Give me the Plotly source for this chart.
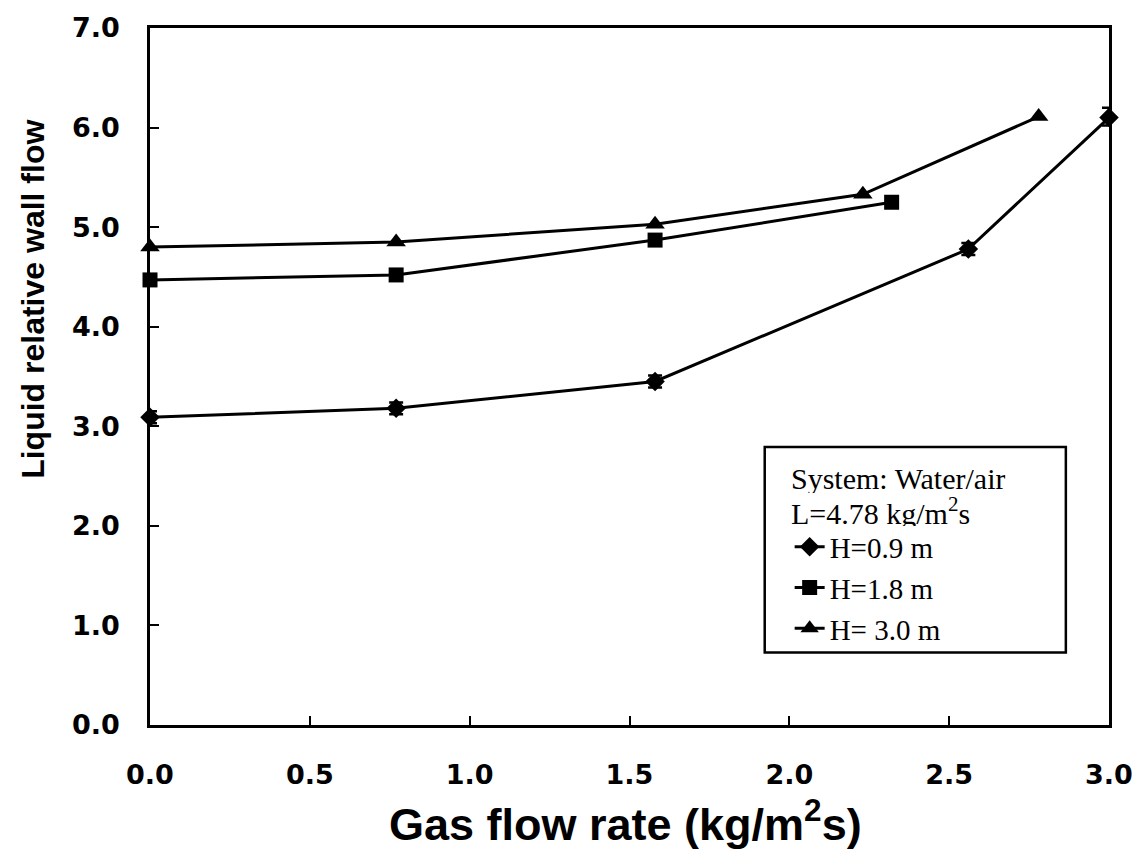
import plotly.graph_objects as go

# Gas flow rate (kg/m2s) and liquid relative wall flow for three bed heights
gas_h09 = [0.0, 0.77, 1.58, 2.56, 3.0]
wall_h09 = [3.09, 3.18, 3.45, 4.78, 6.10]
err_h09_plus = [0.06, 0.06, 0.06, 0.06, 0.10]
err_h09_minus = [0.06, 0.06, 0.06, 0.06, 0.08]

gas_h18 = [0.0, 0.77, 1.58, 2.32]
wall_h18 = [4.47, 4.52, 4.87, 5.25]

gas_h30 = [0.0, 0.77, 1.58, 2.23, 2.78]
wall_h30 = [4.80, 4.85, 5.03, 5.33, 6.11]

x_ticks = [0.0, 0.5, 1.0, 1.5, 2.0, 2.5, 3.0]
y_ticks = [0.0, 1.0, 2.0, 3.0, 4.0, 5.0, 6.0, 7.0]

series_names = ["H=0.9 m", "H=1.8 m", "H= 3.0 m"]
legend_header = ["System: Water/air", "L=4.78 kg/m<sup>2</sup>s"]

line_style = dict(color="black", width=3)

fig = go.Figure()
fig.add_trace(go.Scatter(
    x=gas_h09, y=wall_h09, mode="lines+markers", name=series_names[0],
    line=line_style, cliponaxis=False,
    marker=dict(symbol="diamond", size=15, color="black"),
    error_y=dict(type="data", symmetric=False, array=err_h09_plus,
                 arrayminus=err_h09_minus, color="black", thickness=2.5, width=7),
))
fig.add_trace(go.Scatter(
    x=gas_h18, y=wall_h18, mode="lines+markers", name=series_names[1],
    line=line_style, cliponaxis=False,
    marker=dict(symbol="square", size=15, color="black"),
))
fig.add_trace(go.Scatter(
    x=gas_h30, y=wall_h30, mode="lines+markers", name=series_names[2],
    line=line_style, cliponaxis=False,
    marker=dict(symbol="triangle-up", size=17, color="black"),
))

tick_font = dict(family="DejaVu Sans", size=27, color="black", weight="bold")

fig.update_xaxes(
    range=[0, 3.0], tickvals=x_ticks, tickformat=".1f",
    showline=True, linecolor="black", linewidth=2.5, mirror=True,
    ticks="inside", ticklen=9, tickwidth=2, tickcolor="black",
    showgrid=False, zeroline=False, tickfont=tick_font, ticklabelstandoff=24,
    ticklabeloverflow="allow",
)
fig.update_yaxes(
    range=[0, 7.0], tickvals=y_ticks, tickformat=".1f",
    showline=True, linecolor="black", linewidth=2.5, mirror=True,
    ticks="inside", ticklen=9, tickwidth=2, tickcolor="black",
    showgrid=False, zeroline=False, tickfont=tick_font, ticklabelstandoff=22,
    ticklabeloverflow="allow",
)

fig.add_annotation(
    text="Gas flow rate (kg/m<sup>2</sup>s)", xref="paper", yref="paper",
    x=0.496, y=-0.138, xanchor="center", yanchor="middle", showarrow=False,
    font=dict(family="Liberation Sans", size=45, color="black", weight="bold"),
)
fig.add_annotation(
    text="Liquid relative wall flow", xref="paper", yref="paper",
    x=-0.122, y=0.61, xanchor="center", yanchor="middle", showarrow=False,
    textangle=-90,
    font=dict(family="Liberation Sans", size=32, color="black", weight="bold"),
)

# framed box holding the header lines and the legend entries
fig.add_shape(
    type="rect", xref="paper", yref="paper",
    x0=0.641, x1=0.955, y0=0.104, y1=0.399,
    line=dict(color="black", width=2.5), fillcolor="white", layer="below",
)
legend_font = dict(family="Liberation Serif", size=30, color="black")
for text, ypos in zip(legend_header, [0.3547, 0.3077]):
    fig.add_annotation(
        text=text, xref="paper", yref="paper", x=0.667, y=ypos,
        xanchor="left", yanchor="middle", showarrow=False, font=legend_font,
        height=30, valign="middle", borderpad=0,
    )

fig.update_layout(
    width=1145, height=859,
    margin=dict(l=150, r=23, t=23, b=134),
    paper_bgcolor="white", plot_bgcolor="white",
    showlegend=True,
    legend=dict(
        x=0.667, y=0.292, xanchor="left", yanchor="top",
        bgcolor="rgba(0,0,0,0)", borderwidth=0,
        font=dict(family="Liberation Serif", size=29, color="black"),
        itemwidth=30, tracegroupgap=0,
    ),
)

fig.write_html("out.html")
